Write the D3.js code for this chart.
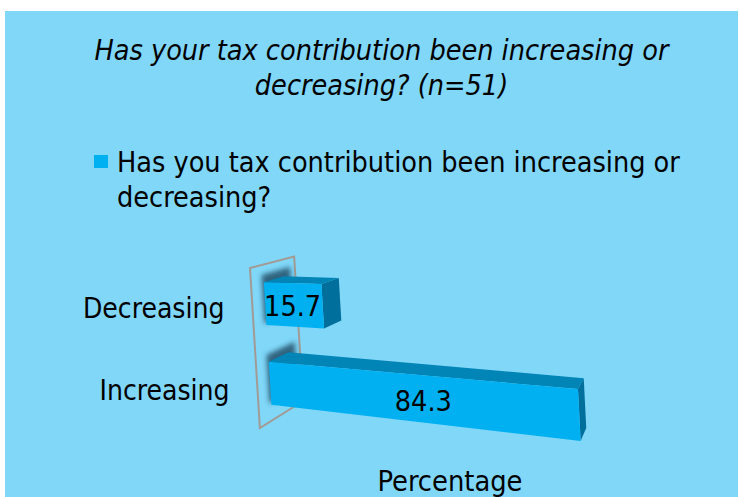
<!DOCTYPE html>
<html>
<head>
<meta charset="utf-8">
<script src="https://cdn.jsdelivr.net/npm/d3@7"></script>
<style>
  body { margin: 0; background: #fff; }
  svg text { font-family: "DejaVu Sans Condensed", "DejaVu Sans", sans-serif; fill: #000; }
</style>
</head>
<body>
<svg id="chart" width="739" height="497"></svg>
<script>
// data
var categories = ["Decreasing", "Increasing"];
var values = [15.7, 84.3];
var titleLines = ["Has your tax contribution been increasing or", "decreasing? (n=51)"];
var legendLines = ["Has you tax contribution been increasing or", "decreasing?"];
var axisTitle = "Percentage";

var svg = d3.select("#chart");

// light blue chart area
svg.append("rect")
  .attr("x", 5).attr("y", 11)
  .attr("width", 733).attr("height", 486)
  .attr("fill", "#80d7f8");

// blur for the shadow the bars throw on the wall
var defs = svg.append("defs");
defs.append("filter").attr("id", "blur")
  .attr("x", "-50%").attr("y", "-50%").attr("width", "200%").attr("height", "200%")
  .append("feGaussianBlur").attr("stdDeviation", 2.5);

// scales
var x = d3.scaleLinear().domain([0, 100]).range([0, 377.4]);
var y = d3.scaleBand().domain(categories).range([268, 430])
  .paddingInner(0.463).paddingOuter(0.22);

// rough perspective: horizontal vanishing point to the left, depth vanishing point up right
var VPY = 240, XF = -1200;
var VD = [705, 150];
var wFront = 0.028, wBack = 0.072, wWall = 0.097;

function wallX(v) { return 250 + (v - 268) * 10 / 162; }

function P(u, v, w) {
  var wx = wallX(v);
  var x0 = wx + x(u);
  var y0 = VPY + (v - VPY) * (x0 - XF) / (wx - XF);
  return [x0 + w * (VD[0] - x0), y0 + w * (VD[1] - y0)];
}

function poly(pts) { return "M" + pts.map(function(p) { return p.join(","); }).join("L") + "Z"; }

// back wall
var r = y.range();
svg.append("path")
  .attr("d", poly([P(0, r[0], 0), P(0, r[0], wWall), P(0, r[1] - 2, wWall), P(0, r[1] - 2, 0)]))
  .attr("fill", "none")
  .attr("stroke", "#a29a95")
  .attr("stroke-width", 2);

var bars = categories.map(function(c, i) {
  return { cat: c, value: values[i], top: y(c), bottom: y(c) + y.bandwidth() };
});

// shadows
svg.selectAll(".shadow")
  .data(bars)
  .enter()
  .append("path")
    .attr("class", "shadow")
    .attr("d", function(d) {
      return poly([P(0, d.top - 8, wFront - 0.004), P(0, d.top - 8, wBack + 0.015),
                   P(0, d.bottom - 2, wBack + 0.015), P(0, d.bottom - 2, wFront - 0.004)]);
    })
    .attr("fill", "#1d4660")
    .attr("opacity", 0.8)
    .attr("filter", "url(#blur)");

var g = svg.selectAll(".bar")
  .data(bars)
  .enter()
  .append("g")
    .attr("class", "bar");

// top face
g.append("path")
  .attr("d", function(d) {
    return poly([P(0, d.top, wFront), P(d.value, d.top, wFront), P(d.value, d.top, wBack), P(0, d.top, wBack)]);
  })
  .attr("fill", "#0085b6");

// side face
g.append("path")
  .attr("d", function(d) {
    return poly([P(d.value, d.top, wFront), P(d.value, d.top, wBack), P(d.value, d.bottom, wBack), P(d.value, d.bottom, wFront)]);
  })
  .attr("fill", "#006f9c");

// front face
g.append("path")
  .attr("d", function(d) {
    return poly([P(0, d.top, wFront), P(d.value, d.top, wFront), P(d.value, d.bottom, wFront), P(0, d.bottom, wFront)]);
  })
  .attr("fill", "#00b0f0");

// value labels in the middle of the front face
g.append("text")
  .attr("x", function(d) {
    return (P(0, d.top, wFront)[0] + P(d.value, d.top, wFront)[0]) / 2;
  })
  .attr("y", function(d) {
    var pts = [P(0, d.top, wFront), P(d.value, d.top, wFront), P(d.value, d.bottom, wFront), P(0, d.bottom, wFront)];
    return d3.mean(pts, function(p) { return p[1]; });
  })
  .attr("dy", "0.4em")
  .attr("text-anchor", "middle")
  .style("font-size", "28.5px")
  .text(function(d) { return d.value; });

// category labels
svg.selectAll(".cat")
  .data(categories)
  .enter()
  .append("text")
    .attr("class", "cat")
    .attr("x", function(d) { return wallX(y(d) + y.bandwidth() / 2) - 28; })
    .attr("y", function(d) { return y(d) + y.bandwidth() / 2 - 1; })
    .attr("dy", "0.4em")
    .attr("text-anchor", "end")
    .style("font-size", "28px")
    .text(function(d) { return d; });

// title
svg.selectAll(".title")
  .data(titleLines)
  .enter()
  .append("text")
    .attr("class", "title")
    .attr("x", 381.5)
    .attr("y", function(d, i) { return 59.5 + i * 35; })
    .attr("text-anchor", "middle")
    .style("font-size", "28.5px")
    .style("font-style", "italic")
    .text(function(d) { return d; });

// legend
svg.append("rect")
  .attr("x", 94).attr("y", 155)
  .attr("width", 14).attr("height", 13)
  .attr("fill", "#00b0f0");

svg.selectAll(".legend")
  .data(legendLines)
  .enter()
  .append("text")
    .attr("class", "legend")
    .attr("x", 117)
    .attr("y", function(d, i) { return 172 + i * 35; })
    .style("font-size", "28.5px")
    .text(function(d) { return d; });

// axis title
svg.append("text")
  .attr("x", 450)
  .attr("y", 491)
  .attr("text-anchor", "middle")
  .style("font-size", "28.7px")
  .text(axisTitle);
</script>
</body>
</html>
